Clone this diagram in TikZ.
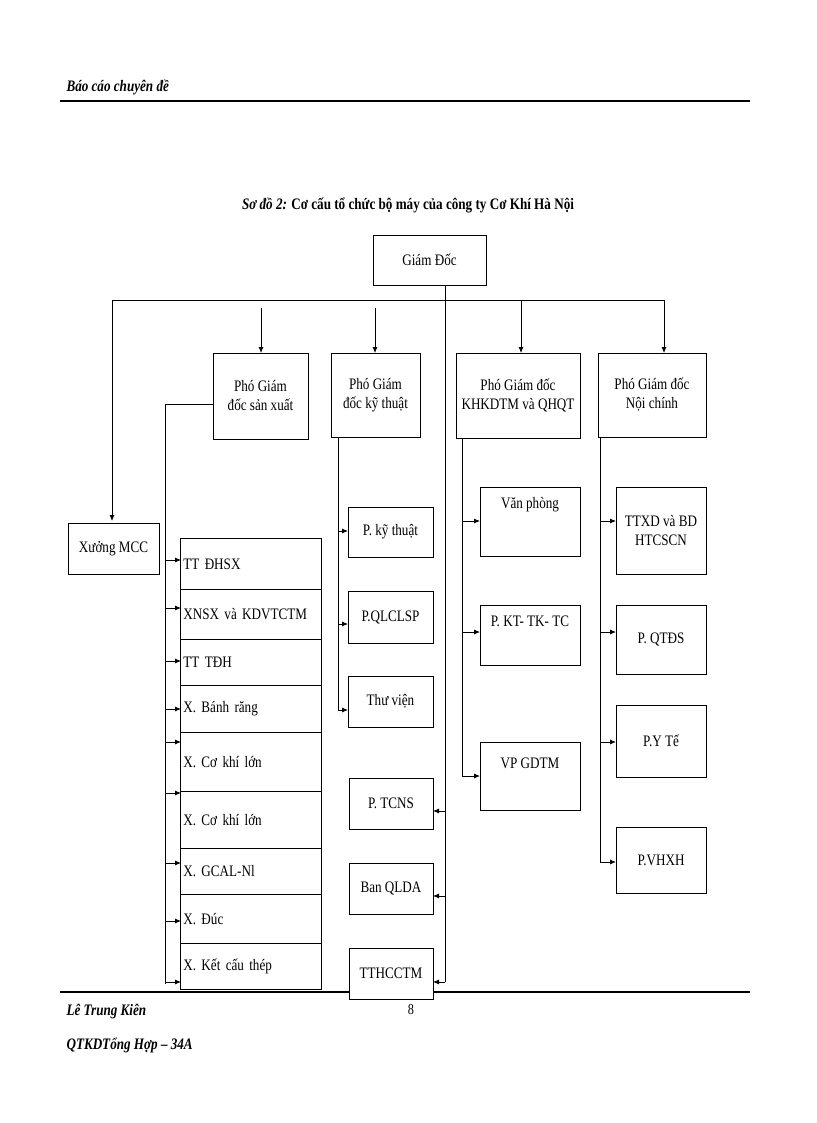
\documentclass[tikz,border=0pt]{standalone}
\usepackage{fontspec}
\setmainfont{Liberation Serif}[FakeStretch=0.82]
\usetikzlibrary{arrows.meta}
\begin{document}
\begin{tikzpicture}[x=1pt,y=-1pt,
  bx/.style={draw,fill=white,line width=0.9pt,inner sep=0pt,font=\fontsize{16}{19}\selectfont,align=center},
  rw/.style={draw,fill=white,line width=0.8pt,inner sep=3pt,font=\fontsize{16}{19}\selectfont,anchor=north west},
  ar/.style={-{Latex[length=6pt,width=5pt]},line width=0.8pt},
  ln/.style={line width=0.8pt}]
\useasboundingbox (0,0) rectangle (816,1123);
\newcommand\bxat[5]{\node[bx,minimum width=#3-#1,minimum height=#4-#2] at ({(#1+#3)/2},{(#2+#4)/2}) {#5};}
% header
\node[anchor=west,font=\fontsize{16}{19}\selectfont\bfseries\itshape] (hd) at (63,87) {Báo cáo chuyên đề};
\draw[line width=1.2pt] (60,101) -- (750,101);
\node[font=\fontsize{16}{19}\selectfont\bfseries] (tt) at (408,205) {\textit{Sơ đồ 2:} Cơ cấu tổ chức bộ máy của công ty Cơ Khí Hà Nội};
% footer
\draw[line width=1.2pt] (60,992) -- (750,992);
\node[font=\fontsize{15}{18}\selectfont] (pg) at (411,1010) {8};
\node[anchor=west,font=\fontsize{16}{19}\selectfont\bfseries\itshape] (f1) at (63,1012) {Lê Trung Kiên};
\node[anchor=west,font=\fontsize{16}{19}\selectfont\bfseries\itshape] (f2) at (63,1045) {QTKDTổng Hợp – 34A};
% top
\draw[ln] (112,300) -- (664,300);
\draw[ln] (445,285) -- (445,982);
\draw[ar] (112,300) -- (112,521);
\draw[ar] (261,308) -- (261,353);
\draw[ar] (375,308) -- (375,353);
\draw[ar] (521,300) -- (521,353);
\draw[ar] (664,300) -- (664,353);
% left main lines
\draw[ln] (213,404) -- (165,404) -- (165,984);
\draw[ln] (338,437) -- (338,710);
\draw[ln] (462,438) -- (462,776);
\draw[ln] (600,437) -- (600,862);
\foreach \y in {560,608,661,709,742,793,863,921,982} \draw[ar] (165,\y) -- (181,\y);
\foreach \y in {531,624,710} \draw[ar] (338,\y) -- (348,\y);
\foreach \y in {521,632,776} \draw[ar] (462,\y) -- (480,\y);
\foreach \y in {521,632,742,862} \draw[ar] (600,\y) -- (616,\y);
\foreach \y in {811,896,982} \draw[ar] (445,\y) -- (433,\y);
% boxes
\node[bx,minimum width=113,minimum height=50] (gd) at (429.5,260) {Giám Đốc};
\node[bx,minimum width=95,minimum height=86] (p1) at (260.5,396) {Phó Giám\\đốc sản xuất};
\node[bx,minimum width=89,minimum height=84] (p2) at (375.5,395) {Phó Giám\\đốc kỹ thuật};
\node[bx,minimum width=124,minimum height=85] (p3) at (518,395.5) {Phó Giám đốc\\KHKDTM và QHQT};
\node[bx,minimum width=108,minimum height=84] (p4) at (652,395) {Phó Giám đốc\\Nội chính};
\node[bx,minimum width=91,minimum height=51] (mcc) at (113.5,548.5) {Xưởng MCC};
% stack
\node[rw,minimum width=141,minimum height=51,text width=135,align=left] (s1) at (180,538) {TT ĐHSX};
\node[rw,minimum width=141,minimum height=50,text width=135,align=left] (s2) at (180,589) {XNSX và KDVTCTM};
\node[rw,minimum width=141,minimum height=46,text width=135,align=left] (s3) at (180,639) {TT TĐH};
\node[rw,minimum width=141,minimum height=47,text width=135,align=left] (s4) at (180,685) {X. Bánh răng};
\node[rw,minimum width=141,minimum height=59,text width=135,align=left] (s5) at (180,732) {X. Cơ khí lớn\\[14pt]};
\node[rw,minimum width=141,minimum height=57,text width=135,align=left] (s6) at (180,791) {X. Cơ khí lớn\\[12pt]};
\node[rw,minimum width=141,minimum height=46,text width=135,align=left] (s7) at (180,848) {X. GCAL-Nl};
\node[rw,minimum width=141,minimum height=49,text width=135,align=left] (s8) at (180,894) {X. Đúc\\[4pt]};
\node[rw,minimum width=141,minimum height=46,text width=135,align=left] (s9) at (180,943) {X. Kết cấu thép};
% technical
\node[bx,minimum width=85,minimum height=50] (k1) at (390.5,532) {P. kỹ thuật};
\node[bx,minimum width=85,minimum height=52] (k2) at (390.5,617) {P.QLCLSP};
\node[bx,minimum width=85,minimum height=51] (k3) at (390.5,701.5) {Thư viện};
\node[bx,minimum width=84,minimum height=51] (m1) at (391,803.5) {P. TCNS};
\node[bx,minimum width=84,minimum height=51] (m2) at (391,888.5) {Ban QLDA};
\node[bx,minimum width=84,minimum height=51] (m3) at (391,973.5) {TTHCCTM};
% KHKDTM
\node[bx,minimum width=100,minimum height=69] (h1) at (530,521.5) {Văn phòng\\[18pt]};
\node[bx,minimum width=100,minimum height=60] (h2) at (530,635) {P. KT- TK- TC\\[8pt]};
\node[bx,minimum width=100,minimum height=68] (h3) at (530,776) {VP GDTM\\[6pt]};
% noi chinh
\node[bx,minimum width=90,minimum height=87] (n1) at (661,530.5) {TTXD và BD\\HTCSCN};
\node[bx,minimum width=90,minimum height=69] (n2) at (661,639.5) {P. QTĐS};
\node[bx,minimum width=90,minimum height=72] (n3) at (661,741) {P.Y Tế};
\node[bx,minimum width=90,minimum height=66] (n4) at (661,860) {P.VHXH};
\end{tikzpicture}
\end{document}
